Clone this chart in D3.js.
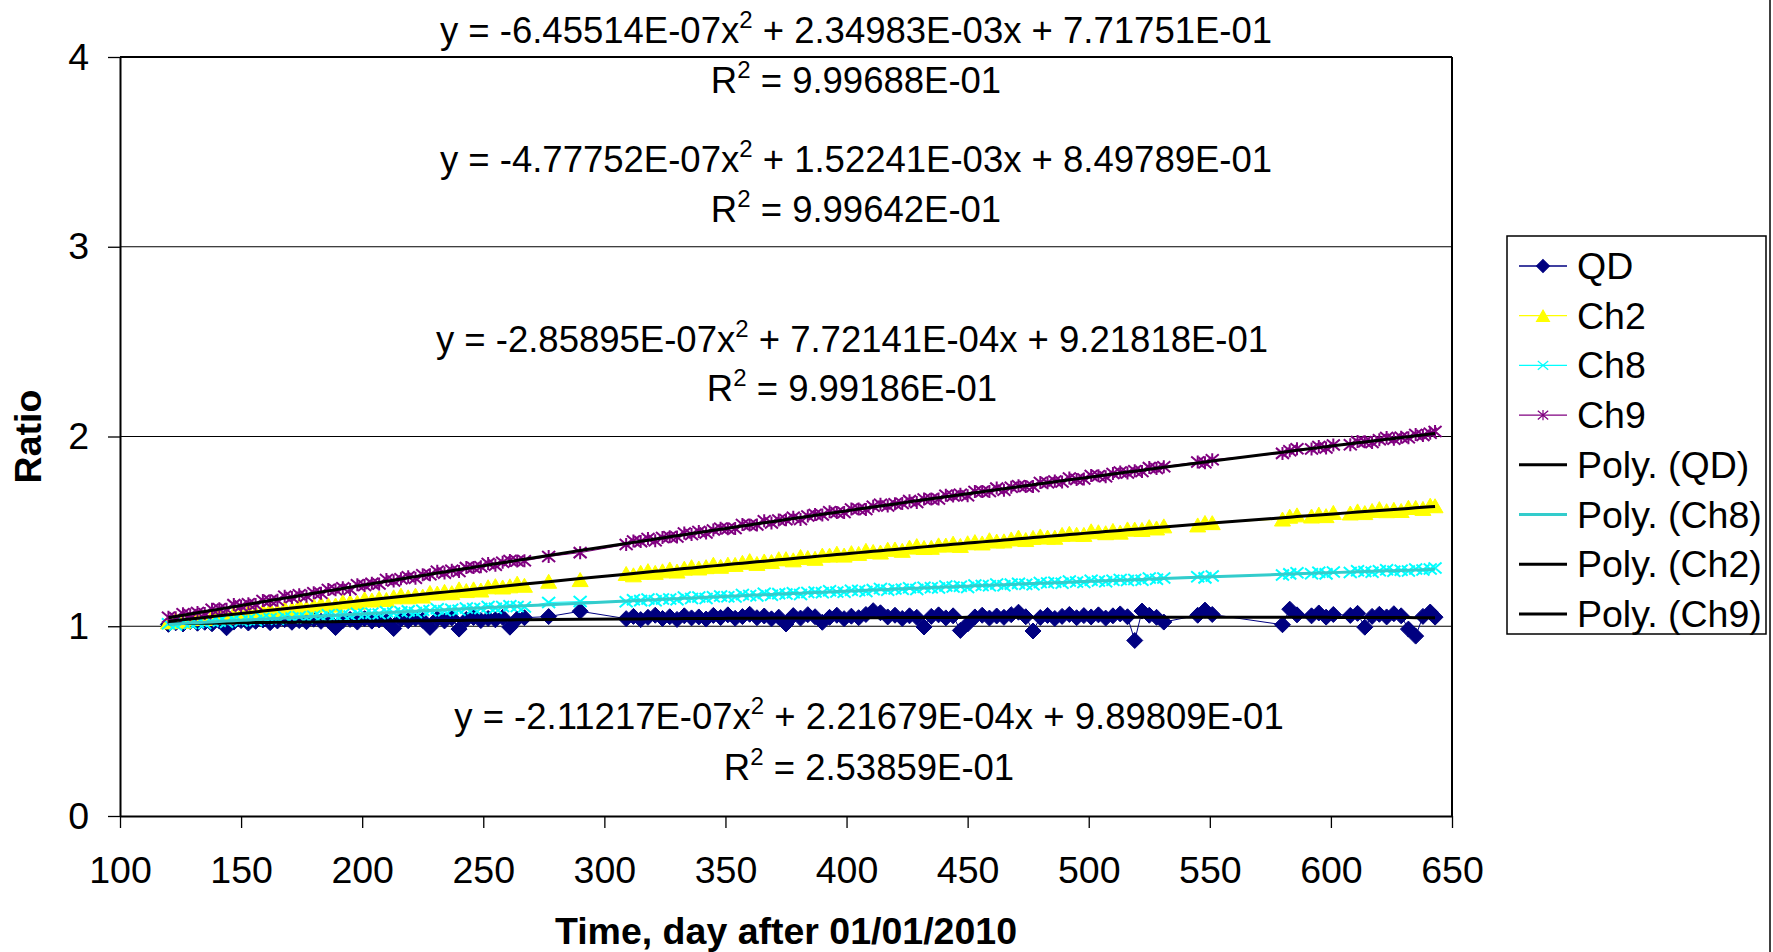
<!DOCTYPE html>
<html>
  <head>
    <meta charset="utf-8">
    <title>Ratio vs time</title>
    <script src="https://cdn.jsdelivr.net/npm/d3@7"></script>
    <style type="text/css">
      body { margin: 0; background: #fff; }
      text { font-family: "Liberation Sans", Arial, sans-serif; fill: #000; }
    </style>
  </head>
  <body>
    <script>
    // day after 01/01/2010 (shared x column for all channels)
    var days = [120,123,126,129,132,135,138,141,144,147,150,153,156,159,162,165,168,171,174,177,
      180,183,186,189,192,195,198,201,204,207,210,213,216,219,222,225,228,231,234,237,
      240,243,246,249,252,255,258,261,264,267,
      277,290,
      309,312,315,318,321,324,327,330,333,336,339,342,345,348,351,354,357,360,363,366,
      369,372,375,378,381,384,387,390,393,396,399,402,405,408,411,414,417,420,423,426,
      429,432,435,438,441,444,447,450,453,456,459,462,465,468,471,474,477,480,483,486,
      489,492,495,498,501,504,507,510,513,516,519,522,525,528,531,
      545,548,551,580,583,586,592,595,598,601,608,611,614,617,620,623,626,629,632,635,638,641,643];

    var qdRatio = [1.010,1.018,1.012,1.025,1.016,1.021,1.013,1.028,0.992,1.022,
      1.030,1.017,1.026,1.033,1.019,1.028,1.035,1.021,1.030,1.024,
      1.037,1.026,1.031,0.993,1.029,1.036,1.022,1.040,1.027,1.033,
      1.025,0.988,1.038,1.029,1.042,1.031,0.994,1.039,1.028,1.044,
      0.985,1.036,1.046,1.030,1.041,1.034,1.047,0.995,1.038,1.045,
      1.051,1.079,
      1.040,1.052,1.035,1.047,1.058,1.041,1.050,1.036,1.055,1.044,
      1.049,1.038,1.057,1.046,1.060,1.042,1.051,1.063,1.045,1.054,
      1.039,1.048,1.012,1.056,1.043,1.061,1.050,1.021,1.047,1.058,
      1.040,1.053,1.045,1.062,1.082,1.071,1.049,1.058,1.041,1.055,
      1.047,0.996,1.052,1.060,1.044,1.055,0.978,1.012,1.049,1.058,
      1.043,1.054,1.047,1.061,1.074,1.050,0.975,1.046,1.057,1.041,
      1.052,1.062,1.045,1.056,1.049,1.060,1.043,1.055,1.065,1.050,
      0.925,1.080,1.058,1.047,1.022,
      1.058,1.085,1.062,1.008,1.090,1.060,1.055,1.070,1.048,1.062,1.057,1.068,0.995,1.052,1.063,1.049,1.066,1.055,0.985,0.948,1.052,1.075,1.048];

    var ch2Ratio = [1.023,1.036,1.026,1.040,1.051,1.041,1.051,1.062,1.049,1.067,
      1.065,1.079,1.070,1.081,1.089,1.079,1.095,1.092,1.110,1.097,
      1.110,1.118,1.113,1.112,1.129,1.129,1.126,1.145,1.138,1.148,
      1.141,1.155,1.164,1.155,1.164,1.159,1.178,1.175,1.184,1.177,
      1.197,1.188,1.197,1.191,1.208,1.214,1.207,1.213,1.227,1.216,
      1.237,1.246,
      1.278,1.271,1.284,1.293,1.284,1.292,1.302,1.291,1.306,1.314,
      1.307,1.314,1.327,1.316,1.327,1.326,1.337,1.346,1.331,1.344,
      1.341,1.356,1.356,1.350,1.368,1.362,1.358,1.375,1.375,1.385,
      1.375,1.388,1.384,1.400,1.394,1.391,1.406,1.407,1.400,1.417,
      1.425,1.415,1.416,1.429,1.428,1.438,1.426,1.440,1.446,1.439,
      1.456,1.449,1.450,1.460,1.470,1.457,1.468,1.476,1.470,1.469,
      1.484,1.490,1.485,1.484,1.503,1.498,1.493,1.505,1.496,1.513,
      1.512,1.510,1.525,1.518,1.529,
      1.534,1.547,1.546,1.565,1.580,1.587,1.581,1.591,1.583,1.600,1.597,1.608,1.599,1.610,1.620,1.609,1.616,1.610,1.627,1.626,1.621,1.638,1.635];

    var ch8Ratio = [1.013,1.007,1.021,1.015,1.020,1.014,1.027,1.027,1.021,1.037,
      1.028,1.035,1.030,1.042,1.039,1.037,1.050,1.043,1.050,1.043,
      1.053,1.049,1.061,1.056,1.062,1.054,1.068,1.063,1.068,1.064,
      1.077,1.070,1.076,1.081,1.073,1.084,1.082,1.092,1.082,1.090,
      1.084,1.096,1.094,1.093,1.104,1.095,1.104,1.108,1.104,1.101,
      1.125,1.130,
      1.129,1.140,1.135,1.144,1.134,1.144,1.144,1.140,1.154,1.146,
      1.154,1.146,1.156,1.160,1.155,1.154,1.167,1.162,1.160,1.174,
      1.163,1.172,1.170,1.177,1.167,1.178,1.181,1.176,1.187,1.181,
      1.179,1.190,1.188,1.183,1.193,1.199,1.190,1.196,1.195,1.203,
      1.194,1.206,1.203,1.201,1.212,1.207,1.211,1.204,1.217,1.215,
      1.213,1.223,1.214,1.222,1.226,1.221,1.219,1.231,1.228,1.232,
      1.227,1.239,1.233,1.231,1.243,1.239,1.234,1.243,1.246,1.241,
      1.246,1.242,1.254,1.248,1.254,
      1.261,1.255,1.265,1.270,1.276,1.282,1.277,1.284,1.276,1.286,1.283,1.292,1.289,1.284,1.293,1.298,1.290,1.295,1.291,1.302,1.296,1.302,1.307];

    var ch9Ratio = [1.048,1.045,1.066,1.061,1.072,1.067,1.090,1.092,1.090,1.114,
      1.106,1.119,1.114,1.136,1.135,1.137,1.158,1.152,1.166,1.158,
      1.177,1.174,1.194,1.192,1.203,1.194,1.219,1.215,1.226,1.223,
      1.246,1.238,1.250,1.261,1.253,1.271,1.271,1.290,1.280,1.295,
      1.289,1.309,1.310,1.313,1.331,1.322,1.337,1.347,1.344,1.345,
      1.368,1.388,
      1.431,1.449,1.446,1.462,1.451,1.468,1.472,1.470,1.492,1.484,
      1.499,1.491,1.507,1.517,1.514,1.515,1.536,1.534,1.534,1.556,
      1.544,1.560,1.561,1.574,1.563,1.581,1.589,1.586,1.604,1.599,
      1.599,1.618,1.618,1.615,1.632,1.643,1.634,1.646,1.647,1.662,
      1.652,1.671,1.671,1.671,1.690,1.686,1.696,1.688,1.710,1.710,
      1.710,1.728,1.717,1.732,1.740,1.737,1.737,1.757,1.756,1.765,
      1.760,1.781,1.774,1.776,1.795,1.793,1.788,1.805,1.813,1.808,
      1.819,1.815,1.836,1.831,1.841,
      1.866,1.862,1.878,1.911,1.925,1.935,1.934,1.947,1.939,1.955,1.957,1.973,1.972,1.968,1.983,1.995,1.986,1.996,1.993,2.011,2.005,2.017,2.026];

    // 2nd order fits as printed on the chart: [x^2, x, const]
    var fitQD  = [-2.11217e-07, 2.21679e-04, 9.89809e-01];
    var fitCh2 = [-4.77752e-07, 1.52241e-03, 8.49789e-01];
    var fitCh8 = [-2.85895e-07, 7.72141e-04, 9.21818e-01];
    var fitCh9 = [-6.45514e-07, 2.34983e-03, 7.71751e-01];
    var r2QD = 2.53859e-01, r2Ch2 = 9.99642e-01, r2Ch8 = 9.99186e-01, r2Ch9 = 9.99688e-01;

    var xTicks = [100,150,200,250,300,350,400,450,500,550,600,650];
    var yTicks = [0,1,2,3,4];

    var width = 1773, height = 952;
    var margin = {top: 57, right: 321, bottom: 136, left: 120};
    var plotW = width - margin.left - margin.right,
        plotH = height - margin.top - margin.bottom;
    var fs = 37.5;   // label font size

    var svg = d3.select("body").append("svg")
        .attr("width", width)
        .attr("height", height);

    var g = svg.append("g")
        .attr("transform", "translate(" + margin.left + "," + margin.top + ")");

    var xScale = d3.scaleLinear().domain([100, 650]).range([0, plotW]);
    var yScale = d3.scaleLinear().domain([0, 4]).range([plotH, 0]);

    // gridlines + right border of plot area
    g.selectAll(".grid").data(yTicks.slice(1)).enter().append("line")
      .attr("x1", 0).attr("x2", plotW)
      .attr("y1", function(d) { return yScale(d); })
      .attr("y2", function(d) { return yScale(d); })
      .attr("stroke", "#000")
      .attr("stroke-width", function(d) { return d == 4 ? 2 : 1.2; });
    g.append("line")
      .attr("x1", plotW).attr("x2", plotW).attr("y1", 0).attr("y2", plotH)
      .attr("stroke", "#000").attr("stroke-width", 2);

    // marker shapes, roughly like the Excel ones
    var markers = {
      diamond: "M0,-8L8,0L0,8L-8,0Z",
      triangle: "M0,-7L8,7L-8,7Z",
      cross: "M-6.5,-5.5L6.5,5.5M-6.5,5.5L6.5,-5.5",
      star: "M-6.5,-5.5L6.5,5.5M-6.5,5.5L6.5,-5.5M0,-6.5L0,6.5"
    };

    var series = [
      {name: "QD",  values: qdRatio,  color: "#000080", marker: "diamond", filled: true},
      {name: "Ch2", values: ch2Ratio, color: "#ffff00", marker: "triangle", filled: true},
      {name: "Ch8", values: ch8Ratio, color: "#00ffff", marker: "cross", filled: false},
      {name: "Ch9", values: ch9Ratio, color: "#800080", marker: "star", filled: false}
    ];

    var line = d3.line()
      .x(function(d) { return xScale(d[0]); })
      .y(function(d) { return yScale(d[1]); });

    series.forEach(function(s) {
      var pts = days.map(function(d, i) { return [d, s.values[i]]; });
      g.append("path").datum(pts)
        .attr("d", line)
        .attr("fill", "none")
        .attr("stroke", s.color)
        .attr("stroke-width", 1);
      g.selectAll(".m-" + s.name).data(pts).enter().append("path")
        .attr("transform", function(d) { return "translate(" + xScale(d[0]) + "," + yScale(d[1]) + ")"; })
        .attr("d", markers[s.marker])
        .attr("fill", s.filled ? s.color : "none")
        .attr("stroke", s.color)
        .attr("stroke-width", s.filled ? 1 : 2);
    });

    // trendlines (drawn on top, legend order)
    var trends = [
      {name: "Poly. (QD)",  coef: fitQD,  color: "#000"},
      {name: "Poly. (Ch8)", coef: fitCh8, color: "#33cccc"},
      {name: "Poly. (Ch2)", coef: fitCh2, color: "#000"},
      {name: "Poly. (Ch9)", coef: fitCh9, color: "#000"}
    ];
    trends.forEach(function(t) {
      var pts = days.map(function(d) {
        return [d, t.coef[0] * d * d + t.coef[1] * d + t.coef[2]];
      });
      g.append("path").datum(pts)
        .attr("d", line)
        .attr("fill", "none")
        .attr("stroke", t.color)
        .attr("stroke-width", 3);
    });

    // axes
    var xAxis = g.append("g")
      .attr("transform", "translate(0," + plotH + ")")
      .call(d3.axisBottom(xScale).tickValues(xTicks).tickSize(12).tickSizeOuter(0).tickPadding(28));
    var yAxis = g.append("g")
      .call(d3.axisLeft(yScale).tickValues(yTicks).tickFormat(d3.format("d")).tickSize(12).tickSizeOuter(0).tickPadding(19));
    [xAxis, yAxis].forEach(function(a) {
      a.select(".domain").attr("stroke", "#000").attr("stroke-width", 2);
      a.selectAll(".tick line").attr("stroke", "#000").attr("stroke-width", 1.3);
      a.selectAll(".tick text").attr("font-size", fs).attr("font-family", "Liberation Sans, Arial, sans-serif").attr("fill", "#000");
    });

    // axis titles
    svg.append("text")
      .attr("x", margin.left + plotW / 2).attr("y", 944)
      .attr("text-anchor", "middle")
      .attr("font-size", fs).attr("font-weight", "bold")
      .text("Time, day after 01/01/2010");
    svg.append("text")
      .attr("transform", "translate(41," + (margin.top + plotH / 2) + ") rotate(-90)")
      .attr("text-anchor", "middle")
      .attr("font-size", fs).attr("font-weight", "bold")
      .text("Ratio");

    // trendline equation labels
    function sci(v) {
      var p = v.toExponential(5).split("e");
      var e = +p[1];
      return p[0] + "E" + (e < 0 ? "-" : "+") + (Math.abs(e) < 10 ? "0" : "") + Math.abs(e);
    }
    var eqLabels = [
      {coef: fitCh9, r2: r2Ch9, x: 856, y: 43, y2: 93},
      {coef: fitCh2, r2: r2Ch2, x: 856, y: 172, y2: 222},
      {coef: fitCh8, r2: r2Ch8, x: 852, y: 352, y2: 401},
      {coef: fitQD,  r2: r2QD,  x: 869, y: 729, y2: 780}
    ];
    eqLabels.forEach(function(e) {
      var t = svg.append("text").attr("x", e.x).attr("y", e.y)
        .attr("text-anchor", "middle").attr("font-size", 36.5);
      t.append("tspan").text("y = " + sci(e.coef[0]) + "x");
      t.append("tspan").attr("font-size", 24).attr("dy", -15).text("2");
      t.append("tspan").attr("dy", 15).text(" + " + sci(e.coef[1]) + "x + " + sci(e.coef[2]));
      var r = svg.append("text").attr("x", e.x).attr("y", e.y2)
        .attr("text-anchor", "middle").attr("font-size", 36.5);
      r.append("tspan").text("R");
      r.append("tspan").attr("font-size", 24).attr("dy", -15).text("2");
      r.append("tspan").attr("dy", 15).text(" = " + sci(e.r2));
    });

    // legend
    var legend = svg.append("g").attr("transform", "translate(1507,236)");
    legend.append("rect")
      .attr("width", 259).attr("height", 398)
      .attr("fill", "#fff").attr("stroke", "#000").attr("stroke-width", 1.5);
    var legItems = series.map(function(s) {
      return {name: s.name, color: s.color, marker: s.marker, filled: s.filled, w: 1.3};
    }).concat(trends.map(function(t) {
      return {name: t.name, color: t.color, marker: null, w: 3};
    }));
    var li = legend.selectAll(".li").data(legItems).enter().append("g")
      .attr("transform", function(d, i) { return "translate(0," + (30 + i * 49.7) + ")"; });
    li.append("line")
      .attr("x1", 12).attr("x2", 60)
      .attr("stroke", function(d) { return d.color; })
      .attr("stroke-width", function(d) { return d.w; });
    li.filter(function(d) { return d.marker; }).append("path")
      .attr("transform", "translate(36,0) scale(0.8)")
      .attr("d", function(d) { return markers[d.marker]; })
      .attr("fill", function(d) { return d.filled ? d.color : "none"; })
      .attr("stroke", function(d) { return d.color; })
      .attr("stroke-width", 1.5);
    li.append("text")
      .attr("x", 70).attr("y", 13)
      .attr("font-size", fs)
      .text(function(d) { return d.name; });

    // chart area border on the right
    svg.append("line")
      .attr("x1", 1770).attr("x2", 1770).attr("y1", 0).attr("y2", height)
      .attr("stroke", "#000").attr("stroke-width", 1.5);

    </script>
  </body>
</html>
